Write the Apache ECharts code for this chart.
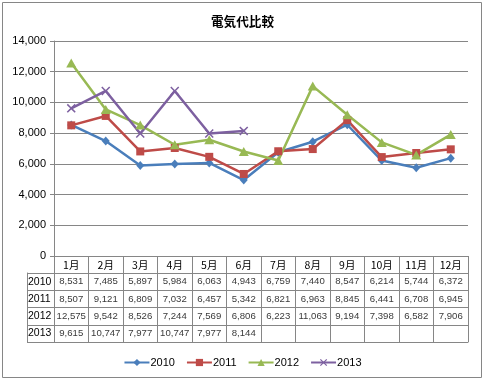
<!DOCTYPE html>
<html><head><meta charset="utf-8">
<script src="https://cdn.jsdelivr.net/npm/echarts@6/dist/echarts.min.js"></script>
<style>html,body{margin:0;padding:0;background:#fff}#c{width:485px;height:381px}</style>
</head><body><div id="c"></div>
<script>
var months = ['1月','2月','3月','4月','5月','6月','7月','8月','9月','10月','11月','12月'];
var years = ['2010','2011','2012','2013'];
var v2010 = [8531,7485,5897,5984,6063,4943,6759,7440,8547,6214,5744,6372];
var v2011 = [8507,9121,6809,7032,6457,5342,6821,6963,8845,6441,6708,6945];
var v2012 = [12575,9542,8526,7244,7569,6806,6223,11063,9194,7398,6582,7906];
var v2013 = [9615,10747,7977,10747,7977,8144];
var yTicks = {min:0, max:14000, interval:2000};

var allVals = [v2010, v2011, v2012, v2013];
var colors = ['#4A7EBB','#BE4B48','#98B954','#7D60A0'];
var symbols = ['diamond','rect','triangle','path://M0,1.2L1.2,0L5,3.8L8.8,0L10,1.2L6.2,5L10,8.8L8.8,10L5,6.2L1.2,10L0,8.8L3.8,5Z'];
var symSizes = [[8,9],8,[10,9],9];
var gray = '#868686';
var font = 'Liberation Sans, Arial, sans-serif';

var series = [];
years.forEach(function(y, i){
  series.push({
    name: y, type: 'line', xAxisIndex: 0, yAxisIndex: 0,
    data: allVals[i], symbol: symbols[i], symbolSize: symSizes[i],
    lineStyle: {color: colors[i], width: 2.5},
    itemStyle: {color: colors[i]}, showSymbol: true
  });
});
var cells = [];
allVals.forEach(function(arr, r){
  arr.forEach(function(v, c){ cells.push([c, r, v]); });
});
series.push({
  name: 'table', type: 'scatter', xAxisIndex: 1, yAxisIndex: 1,
  data: cells, symbolSize: 2, itemStyle: {color: 'rgba(255,255,255,0)'},
  label: {show: true, position: 'inside', color: '#000', fontSize: 9.6, fontFamily: font,
    formatter: function(p){ return p.data[2].toLocaleString('en-US'); }},
  silent: true
});

var chart = echarts.init(document.getElementById('c'), null, {renderer:'canvas'});
chart.setOption({
  animation: false,
  backgroundColor: '#fff',
  title: {text: '電気代比較', left: 'center', top: 10,
    textStyle: {fontSize: 12.6, fontWeight: 'bold', color: '#000', fontFamily: 'Noto Sans CJK JP'}},
  graphic: [{type: 'rect', shape: {x: 2.5, y: 2.5, width: 479, height: 375},
    style: {fill: null, stroke: gray, lineWidth: 1}, silent: true}],
  legend: {data: years, left: 'center', top: 352, itemWidth: 25, itemHeight: 9, itemGap: 11,
    textStyle: {fontSize: 11, color: '#000', fontFamily: font, padding: [0,0,0,-4]}},
  grid: [
    {left: 54, right: 17, top: 41, bottom: 125},
    {left: 54, right: 17, top: 273, bottom: 39}
  ],
  xAxis: [
    {type: 'category', gridIndex: 0, data: months, boundaryGap: true,
      axisLine: {show: true, lineStyle: {color: gray}},
      axisTick: {show: true, length: 17, interval: 0, lineStyle: {color: gray}},
      axisLabel: {interval: 0, margin: 4, fontSize: 10.5, color: '#000', fontFamily: 'Noto Sans CJK JP'},
      splitLine: {show: false}},
    {type: 'category', gridIndex: 1, data: months, boundaryGap: true,
      axisLine: {show: true, lineStyle: {color: gray}},
      axisTick: {show: false}, axisLabel: {show: false},
      splitLine: {show: true, interval: 0, lineStyle: {color: gray}}}
  ],
  yAxis: [
    {type: 'value', gridIndex: 0, min: yTicks.min, max: yTicks.max, interval: yTicks.interval,
      axisLine: {show: true, lineStyle: {color: gray}},
      axisTick: {show: true, length: 4, lineStyle: {color: gray}},
      axisLabel: {fontSize: 11, color: '#000', fontFamily: font, margin: 8,
        formatter: function(v){ return v.toLocaleString('en-US'); }},
      splitLine: {show: true, lineStyle: {color: gray}}},
    {type: 'category', gridIndex: 1, data: years, inverse: true, boundaryGap: true,
      axisLine: {show: true, lineStyle: {color: gray}},
      axisTick: {show: true, length: 27, interval: 0, lineStyle: {color: gray}},
      axisLabel: {interval: 0, align: 'left', margin: 26, fontSize: 10.5, color: '#000', fontFamily: font},
      splitLine: {show: true, interval: 0, lineStyle: {color: gray}}},
    {type: 'category', gridIndex: 1, data: years, position: 'left', offset: 27,
      axisLine: {show: true, lineStyle: {color: gray}},
      axisTick: {show: false}, axisLabel: {show: false}, splitLine: {show: false}}
  ],
  series: series
});
</script></body></html>
